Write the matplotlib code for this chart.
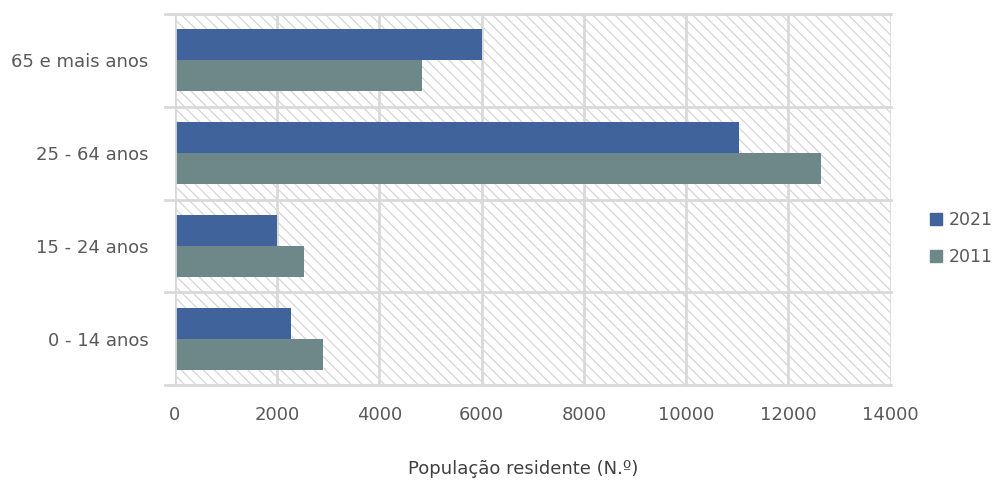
import matplotlib
matplotlib.use("Agg")
import matplotlib.pyplot as plt
from matplotlib.patches import Rectangle
from matplotlib.lines import Line2D
import numpy as np

# dados
categorias = ["0 - 14 anos", "15 - 24 anos", "25 - 64 anos", "65 e mais anos"]
pop_2021 = [2270, 1995, 11030, 6000]
pop_2011 = [2895, 2520, 12630, 4830]
anos = ["2021", "2011"]

COR_2021 = "#41639B"
COR_2011 = "#6E8789"
GRID_C = "#D9D9D9"
TXT = "#595959"

plt.rcParams.update({"font.family": ["DejaVu Sans"],
                     "hatch.linewidth": 0.9,
                     "hatch.color": "#D6D6D6"})

fig = plt.figure(figsize=(9.94, 4.82), dpi=100)
ax = fig.add_axes([0.176, 0.201, 0.720, 0.770])

# fundo tracejado
ax.add_patch(Rectangle((0, 0), 1, 1, transform=ax.transAxes, facecolor="white",
                       edgecolor="#D6D6D6", hatch="\\\\\\", linewidth=0, zorder=0))

y = np.arange(len(categorias))
h = 1 / 3
ax.barh(y + h / 2, pop_2021, height=h, color=COR_2021, zorder=3)
ax.barh(y - h / 2, pop_2011, height=h, color=COR_2011, zorder=3)

ax.set_xlim(0, 14000)
ax.set_ylim(-0.5, len(categorias) - 0.5)
ax.set_xticks(np.arange(0, 14001, 2000))
ax.set_yticks(y)
ax.set_yticklabels(categorias)

# grelha
for xv in np.arange(2000, 14001, 2000):
    ax.axvline(xv, color=GRID_C, lw=2, zorder=1)
for k in range(len(categorias) + 1):
    yy = k / len(categorias)
    ax.plot([-0.014, 1], [yy, yy], transform=ax.transAxes,
            color=GRID_C, lw=2, zorder=1, clip_on=False)
ax.axvline(0, color=GRID_C, lw=2, zorder=4)

for s in ax.spines.values():
    s.set_visible(False)
ax.tick_params(axis="both", length=0, labelsize=13, colors=TXT)
ax.tick_params(axis="y", pad=19)
ax.tick_params(axis="x", pad=15)

fig.text(0.526, 0.028, "População residente (N.º)", fontsize=13, color="#404040",
         ha="center", va="center")

handles = [Line2D([], [], marker="s", ls="", color=c, markersize=9) for c in (COR_2021, COR_2011)]
leg = fig.legend(handles, anos, loc="center left", bbox_to_anchor=(0.928, 0.505),
                 frameon=False, fontsize=12.5, handletextpad=0.3, labelspacing=1.05,
                 handlelength=0.8, borderaxespad=0)
for t in leg.get_texts():
    t.set_color(TXT)

fig.savefig("out.png", dpi=100)
